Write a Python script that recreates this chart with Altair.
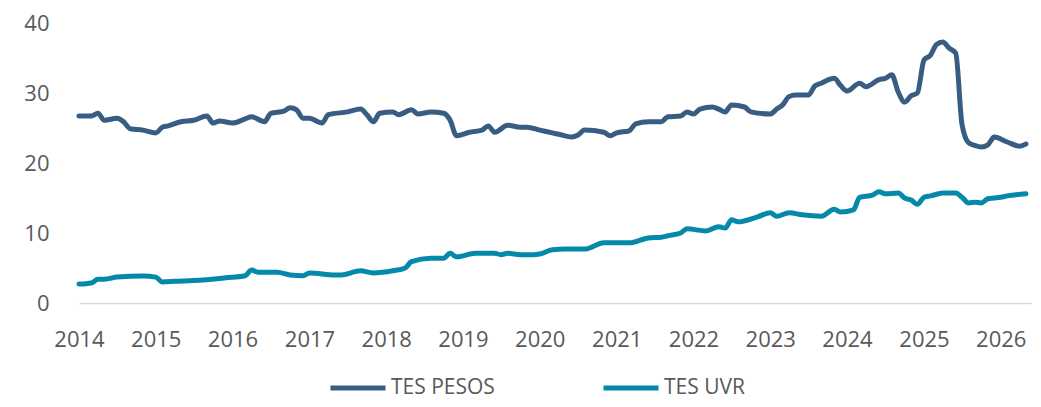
import altair as alt
import pandas as pd

pesos_dates = ["2014-01", "2014-03", "2014-04", "2014-05", "2014-07", "2014-08", "2014-09", "2014-11",
               "2015-01", "2015-02", "2015-03", "2015-05", "2015-07", "2015-09", "2015-10", "2015-11",
               "2016-01", "2016-03", "2016-04", "2016-06", "2016-07", "2016-09", "2016-10", "2016-11", "2016-12",
               "2017-01", "2017-03", "2017-04", "2017-07", "2017-09", "2017-10", "2017-11", "2017-12",
               "2018-02", "2018-03", "2018-05", "2018-06", "2018-08", "2018-10", "2018-11", "2018-12",
               "2019-02", "2019-04", "2019-05", "2019-06", "2019-08", "2019-10", "2019-11",
               "2020-01", "2020-03", "2020-04", "2020-06", "2020-07", "2020-08", "2020-11", "2020-12",
               "2021-01", "2021-03", "2021-04", "2021-06", "2021-08", "2021-09", "2021-11", "2021-12",
               "2022-01", "2022-02", "2022-04", "2022-05", "2022-06", "2022-07", "2022-09", "2022-10",
               "2023-01", "2023-02", "2023-03", "2023-04", "2023-05", "2023-07", "2023-08", "2023-09", "2023-11", "2023-12",
               "2024-01", "2024-03", "2024-04", "2024-06", "2024-07", "2024-08", "2024-09", "2024-10", "2024-11", "2024-12",
               "2025-01", "2025-02", "2025-03", "2025-04", "2025-05", "2025-06", "2025-07", "2025-08", "2025-09",
               "2025-10", "2025-11", "2025-12", "2026-02", "2026-04", "2026-05"]
pesos_values = [26.7, 26.7, 27.1, 26.1, 26.4, 25.9, 24.9, 24.7,
                24.3, 25.1, 25.3, 25.9, 26.1, 26.7, 25.7, 26.0,
                25.7, 26.3, 26.6, 25.9, 27.1, 27.4, 27.9, 27.6, 26.4,
                26.4, 25.7, 26.9, 27.3, 27.7, 26.9, 25.9, 27.1,
                27.3, 26.9, 27.6, 27.0, 27.3, 27.1, 26.1, 23.9,
                24.4, 24.7, 25.3, 24.4, 25.4, 25.1, 25.1,
                24.7, 24.3, 24.1, 23.7, 24.0, 24.7, 24.4, 23.9,
                24.3, 24.6, 25.6, 25.9, 25.9, 26.6, 26.7, 27.3,
                27.0, 27.7, 28.0, 27.7, 27.3, 28.3, 28.0, 27.3,
                27.0, 27.7, 28.3, 29.5, 29.7, 29.7, 31.0, 31.4, 32.1, 31.1,
                30.3, 31.4, 30.9, 31.9, 32.1, 32.6, 30.1, 28.7, 29.6, 30.0,
                34.7, 35.4, 36.9, 37.3, 36.4, 35.7, 25.5, 22.9, 22.5,
                22.3, 22.6, 23.7, 23.0, 22.4, 22.7]

uvr_dates = ["2014-01", "2014-03", "2014-04", "2014-05", "2014-07", "2014-11",
             "2015-01", "2015-02", "2015-04", "2015-07", "2015-12",
             "2016-03", "2016-04", "2016-05", "2016-08", "2016-10", "2016-12",
             "2017-01", "2017-05", "2017-06", "2017-09", "2017-11",
             "2018-02", "2018-04", "2018-05", "2018-08", "2018-10", "2018-11", "2018-12",
             "2019-03", "2019-06", "2019-07", "2019-08", "2019-10", "2019-12",
             "2020-01", "2020-03", "2020-05", "2020-08", "2020-11",
             "2021-03", "2021-06", "2021-08", "2021-09", "2021-11", "2021-12",
             "2022-03", "2022-05", "2022-06", "2022-07", "2022-08", "2022-11",
             "2023-01", "2023-02", "2023-04", "2023-06", "2023-09", "2023-11", "2023-12",
             "2024-02", "2024-03", "2024-05", "2024-06", "2024-07", "2024-09", "2024-10", "2024-11", "2024-12",
             "2025-01", "2025-02", "2025-04", "2025-06", "2025-07", "2025-08", "2025-09", "2025-10",
             "2025-11", "2025-12", "2026-01", "2026-02", "2026-05"]
uvr_values = [2.7, 2.86, 3.4, 3.4, 3.7, 3.86,
              3.7, 3.0, 3.1, 3.2, 3.6,
              3.9, 4.7, 4.4, 4.4, 4.0, 3.9,
              4.3, 4.0, 4.0, 4.6, 4.3,
              4.6, 5.0, 5.9, 6.4, 6.4, 7.1, 6.6,
              7.1, 7.1, 6.9, 7.1, 6.9, 6.9,
              7.0, 7.6, 7.7, 7.7, 8.6,
              8.6, 9.3, 9.4, 9.6, 10.0, 10.6,
              10.3, 10.9, 10.7, 11.9, 11.6, 12.3,
              12.9, 12.4, 12.9, 12.6, 12.4, 13.4, 13.0,
              13.3, 15.1, 15.4, 15.9, 15.6, 15.7, 15.0, 14.7, 14.1,
              15.1, 15.3, 15.7, 15.7, 15.1, 14.3, 14.4, 14.3,
              14.9, 15.0, 15.1, 15.3, 15.6]

series_names = ["TES PESOS", "TES UVR"]
series_colors = ["#385D82", "#0489A9"]
year_ticks = list(range(2014, 2027))

rows = []
for d, v in zip(pesos_dates, pesos_values):
    rows.append({"date": d + "-01", "serie": series_names[0], "valor": v})
for d, v in zip(uvr_dates, uvr_values):
    rows.append({"date": d + "-01", "serie": series_names[1], "valor": v})
df = pd.DataFrame(rows)

FONT = "Open Sans"
TXT = "#595959"

chart = alt.Chart(df).mark_line(strokeWidth=5, interpolate="monotone", strokeCap="round", strokeJoin="round").encode(
    x=alt.X("date:T",
            scale=alt.Scale(type="utc",
                            domain=[alt.DateTime(year=2014, month=1, date=1, utc=True),
                                    alt.DateTime(year=2026, month=5, date=25, utc=True)]),
            axis=alt.Axis(title=None,
                          values=[alt.DateTime(year=y, month=1, date=1, utc=True) for y in year_ticks],
                          format="%Y", formatType="utc", grid=False, ticks=False,
                          domainColor="#D9D9D9", domainWidth=1.5,
                          labelFont=FONT, labelFontSize=22, labelColor=TXT,
                          labelPadding=26, labelFlush=False)),
    y=alt.Y("valor:Q",
            scale=alt.Scale(domain=[0, 40], nice=False),
            axis=alt.Axis(title=None, values=[0, 10, 20, 30, 40], grid=False, ticks=False,
                          domain=False, labelFont=FONT, labelFontSize=22, labelColor=TXT,
                          labelPadding=30)),
    color=alt.Color("serie:N",
                    scale=alt.Scale(domain=series_names, range=series_colors),
                    legend=alt.Legend(title=None, orient="none", direction="horizontal",
                                      legendX=249, legendY=335,
                                      symbolType="stroke", symbolSize=3025, symbolStrokeWidth=5,
                                      labelFont=FONT, labelFontSize=21, labelColor=TXT,
                                      labelOffset=3, columnPadding=98)),
).properties(
    width=952, height=280,
    autosize=alt.AutoSizeParams(type="none"),
    padding={"left": 71, "top": 15, "right": 2, "bottom": 96},
).configure_view(stroke=None)

chart.save("out.html", embed_options={"renderer": "svg", "actions": False})
